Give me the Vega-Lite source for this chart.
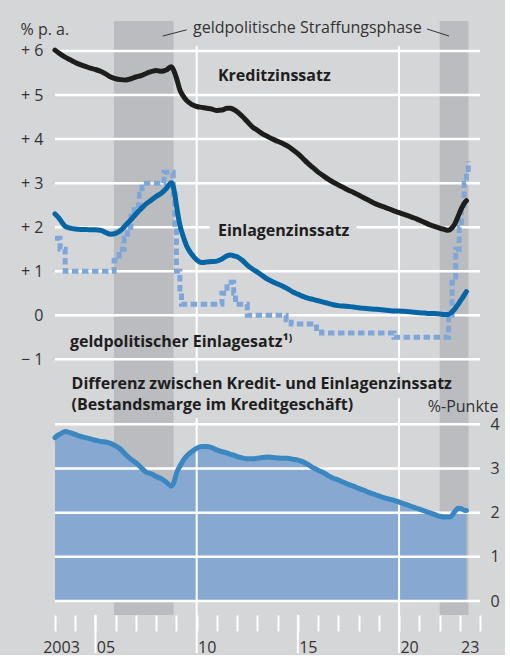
{
  "$schema": "https://vega.github.io/schema/vega-lite/v6.json",
  "background": "#d5d6d8",
  "padding": {"left": 20, "top": 20, "right": 5, "bottom": 0},
  "config": {
    "view": {"stroke": null},
    "font": "Open Sans",
    "axis": {"labelFont": "Open Sans", "titleFont": "Open Sans", "labelColor": "#333333", "titleColor": "#333333", "labelFontSize": 16, "titleFontSize": 16, "titleFontWeight": "normal", "domain": false, "grid": false}
  },
  "spacing": 0,
  "bounds": "flush",
  "datasets": {
    "bands": [{"t": 2005.91, "t2": 2008.86}, {"t": 2022.01, "t2": 2023.43}],
    "gtop": [{"v": -1}, {"v": 0}, {"v": 1}, {"v": 2}, {"v": 3}, {"v": 4}, {"v": 5}, {"v": 6}],
    "gbot": [{"v": 0}, {"v": 1}, {"v": 2}, {"v": 3}, {"v": 4}],
    "vtop": [{"t": 2010, "y1": 6.11, "y2": -1.31}, {"t": 2020, "y1": 6.11, "y2": -1.31}],
    "vbot": [{"t": 2005, "y1": -0.316, "y2": -1.176}, {"t": 2010, "y1": 4.142, "y2": -1.176}, {"t": 2015, "y1": -0.316, "y2": -1.176}, {"t": 2020, "y1": 4.594, "y2": -1.176}],
    "box": [{"t": 2010.65, "t2": 2017.9, "y1": 1.82, "y2": 2.12}],
    "leaders": [{"t": 2008.32, "y1": 6.34, "t2": 2009.5, "y2": 6.48}, {"t": 2021.38, "y1": 6.5, "t2": 2022.47, "y2": 6.34}],
    "notetop": [{"t": 2015.47, "y": 6.515, "label": "geldpolitische Straffungsphase"}],
    "labtop": [
      {"t": 2011.05, "y": 5.43, "label": "Kreditzinssatz"},
      {"t": 2011.05, "y": 1.914, "label": "Einlagenzinssatz"},
      {"t": 2003.74, "y": -0.606, "label": "geldpolitischer Einlagesatz¹⁾"}
    ],
    "labbot": [
      {"t": 2003.82, "y": 4.905, "label": "Differenz zwischen Kredit- und Einlagenzinssatz"},
      {"t": 2003.82, "y": 4.43, "label": "(Bestandsmarge im Kreditgeschäft)"}
    ],
    "policy": [
      {"t": 2003.0, "p": 1.75}, {"t": 2003.25, "p": 1.5}, {"t": 2003.5, "p": 1.0},
      {"t": 2005.92, "p": 1.25}, {"t": 2006.17, "p": 1.5}, {"t": 2006.42, "p": 1.75}, {"t": 2006.58, "p": 2.0},
      {"t": 2006.75, "p": 2.25}, {"t": 2006.92, "p": 2.5}, {"t": 2007.17, "p": 2.75}, {"t": 2007.3, "p": 3.0},
      {"t": 2008.38, "p": 3.25}, {"t": 2008.84, "p": 2.75}, {"t": 2008.92, "p": 2.0}, {"t": 2009.0, "p": 1.0},
      {"t": 2009.17, "p": 0.5}, {"t": 2009.25, "p": 0.25}, {"t": 2011.25, "p": 0.5}, {"t": 2011.5, "p": 0.75},
      {"t": 2011.83, "p": 0.5}, {"t": 2011.92, "p": 0.25}, {"t": 2012.5, "p": 0.0}, {"t": 2014.42, "p": -0.1},
      {"t": 2014.67, "p": -0.2}, {"t": 2015.92, "p": -0.3}, {"t": 2016.17, "p": -0.4}, {"t": 2019.75, "p": -0.5},
      {"t": 2022.45, "p": 0.0}, {"t": 2022.62, "p": 0.75}, {"t": 2022.8, "p": 1.5}, {"t": 2022.97, "p": 2.0},
      {"t": 2023.08, "p": 2.5}, {"t": 2023.22, "p": 3.0}, {"t": 2023.33, "p": 3.25}, {"t": 2023.42, "p": 3.5}
    ],
    "series": [
      {"t": 2003.0, "k": 6.02, "e": 2.30, "d": 3.70},
      {"t": 2003.17, "k": 5.96, "e": 2.22, "d": 3.76},
      {"t": 2003.33, "k": 5.91, "e": 2.12, "d": 3.80},
      {"t": 2003.5, "k": 5.86, "e": 2.02, "d": 3.84},
      {"t": 2003.75, "k": 5.80, "e": 1.98, "d": 3.81},
      {"t": 2004.0, "k": 5.74, "e": 1.96, "d": 3.77},
      {"t": 2004.25, "k": 5.69, "e": 1.95, "d": 3.73},
      {"t": 2004.5, "k": 5.65, "e": 1.95, "d": 3.70},
      {"t": 2004.75, "k": 5.61, "e": 1.94, "d": 3.67},
      {"t": 2005.0, "k": 5.58, "e": 1.94, "d": 3.64},
      {"t": 2005.25, "k": 5.54, "e": 1.93, "d": 3.61},
      {"t": 2005.5, "k": 5.48, "e": 1.88, "d": 3.60},
      {"t": 2005.75, "k": 5.41, "e": 1.84, "d": 3.57},
      {"t": 2006.0, "k": 5.37, "e": 1.86, "d": 3.51},
      {"t": 2006.25, "k": 5.35, "e": 1.93, "d": 3.43},
      {"t": 2006.5, "k": 5.34, "e": 2.05, "d": 3.31},
      {"t": 2006.75, "k": 5.37, "e": 2.17, "d": 3.21},
      {"t": 2007.0, "k": 5.41, "e": 2.30, "d": 3.13},
      {"t": 2007.25, "k": 5.44, "e": 2.42, "d": 3.02},
      {"t": 2007.5, "k": 5.49, "e": 2.53, "d": 2.92},
      {"t": 2007.75, "k": 5.53, "e": 2.61, "d": 2.88},
      {"t": 2008.0, "k": 5.56, "e": 2.70, "d": 2.82},
      {"t": 2008.25, "k": 5.54, "e": 2.77, "d": 2.77},
      {"t": 2008.5, "k": 5.57, "e": 2.88, "d": 2.69},
      {"t": 2008.75, "k": 5.64, "e": 3.01, "d": 2.60},
      {"t": 2008.92, "k": 5.50, "e": 2.75, "d": 2.75},
      {"t": 2009.0, "k": 5.39, "e": 2.50, "d": 2.89},
      {"t": 2009.17, "k": 5.12, "e": 2.05, "d": 3.05},
      {"t": 2009.33, "k": 4.98, "e": 1.80, "d": 3.18},
      {"t": 2009.5, "k": 4.88, "e": 1.58, "d": 3.28},
      {"t": 2009.75, "k": 4.79, "e": 1.39, "d": 3.38},
      {"t": 2010.0, "k": 4.74, "e": 1.26, "d": 3.46},
      {"t": 2010.25, "k": 4.72, "e": 1.20, "d": 3.50},
      {"t": 2010.5, "k": 4.70, "e": 1.21, "d": 3.50},
      {"t": 2010.75, "k": 4.68, "e": 1.22, "d": 3.47},
      {"t": 2011.0, "k": 4.65, "e": 1.23, "d": 3.42},
      {"t": 2011.25, "k": 4.66, "e": 1.28, "d": 3.38},
      {"t": 2011.5, "k": 4.70, "e": 1.35, "d": 3.35},
      {"t": 2011.67, "k": 4.70, "e": 1.37, "d": 3.32},
      {"t": 2011.83, "k": 4.67, "e": 1.35, "d": 3.30},
      {"t": 2012.0, "k": 4.62, "e": 1.33, "d": 3.27},
      {"t": 2012.25, "k": 4.52, "e": 1.25, "d": 3.24},
      {"t": 2012.5, "k": 4.40, "e": 1.14, "d": 3.22},
      {"t": 2012.75, "k": 4.28, "e": 1.05, "d": 3.22},
      {"t": 2013.0, "k": 4.20, "e": 0.98, "d": 3.23},
      {"t": 2013.25, "k": 4.12, "e": 0.90, "d": 3.25},
      {"t": 2013.5, "k": 4.06, "e": 0.82, "d": 3.26},
      {"t": 2013.75, "k": 4.00, "e": 0.76, "d": 3.25},
      {"t": 2014.0, "k": 3.95, "e": 0.71, "d": 3.24},
      {"t": 2014.25, "k": 3.90, "e": 0.66, "d": 3.23},
      {"t": 2014.5, "k": 3.84, "e": 0.60, "d": 3.23},
      {"t": 2014.75, "k": 3.76, "e": 0.53, "d": 3.21},
      {"t": 2015.0, "k": 3.67, "e": 0.48, "d": 3.19},
      {"t": 2015.25, "k": 3.56, "e": 0.43, "d": 3.15},
      {"t": 2015.5, "k": 3.45, "e": 0.39, "d": 3.09},
      {"t": 2015.75, "k": 3.35, "e": 0.36, "d": 3.02},
      {"t": 2016.0, "k": 3.25, "e": 0.33, "d": 2.96},
      {"t": 2016.25, "k": 3.17, "e": 0.30, "d": 2.91},
      {"t": 2016.5, "k": 3.09, "e": 0.27, "d": 2.84},
      {"t": 2016.75, "k": 3.02, "e": 0.24, "d": 2.78},
      {"t": 2017.0, "k": 2.96, "e": 0.22, "d": 2.74},
      {"t": 2017.25, "k": 2.90, "e": 0.21, "d": 2.69},
      {"t": 2017.5, "k": 2.84, "e": 0.20, "d": 2.64},
      {"t": 2017.75, "k": 2.79, "e": 0.19, "d": 2.60},
      {"t": 2018.0, "k": 2.73, "e": 0.17, "d": 2.55},
      {"t": 2018.25, "k": 2.67, "e": 0.16, "d": 2.51},
      {"t": 2018.5, "k": 2.61, "e": 0.15, "d": 2.46},
      {"t": 2018.75, "k": 2.55, "e": 0.14, "d": 2.42},
      {"t": 2019.0, "k": 2.50, "e": 0.13, "d": 2.38},
      {"t": 2019.25, "k": 2.46, "e": 0.12, "d": 2.34},
      {"t": 2019.5, "k": 2.42, "e": 0.11, "d": 2.31},
      {"t": 2019.75, "k": 2.37, "e": 0.10, "d": 2.28},
      {"t": 2020.0, "k": 2.33, "e": 0.10, "d": 2.24},
      {"t": 2020.25, "k": 2.29, "e": 0.09, "d": 2.20},
      {"t": 2020.5, "k": 2.25, "e": 0.08, "d": 2.16},
      {"t": 2020.75, "k": 2.21, "e": 0.07, "d": 2.12},
      {"t": 2021.0, "k": 2.16, "e": 0.06, "d": 2.08},
      {"t": 2021.25, "k": 2.11, "e": 0.05, "d": 2.04},
      {"t": 2021.5, "k": 2.06, "e": 0.04, "d": 2.00},
      {"t": 2021.75, "k": 2.02, "e": 0.04, "d": 1.96},
      {"t": 2022.0, "k": 1.98, "e": 0.03, "d": 1.92},
      {"t": 2022.25, "k": 1.95, "e": 0.02, "d": 1.90},
      {"t": 2022.42, "k": 1.93, "e": 0.02, "d": 1.90},
      {"t": 2022.58, "k": 1.97, "e": 0.06, "d": 1.92},
      {"t": 2022.75, "k": 2.07, "e": 0.14, "d": 2.02},
      {"t": 2022.92, "k": 2.25, "e": 0.25, "d": 2.10},
      {"t": 2023.08, "k": 2.42, "e": 0.36, "d": 2.09},
      {"t": 2023.25, "k": 2.56, "e": 0.48, "d": 2.05},
      {"t": 2023.33, "k": 2.60, "e": 0.54, "d": 2.05}
    ]
  },
  "vconcat": [
    {
      "width": 425,
      "height": 354,
      "encoding": {
        "x": {"field": "t", "type": "quantitative", "scale": {"domain": [2003, 2024], "nice": false, "zero": false}, "axis": null}
      },
      "layer": [
        {
          "data": {"name": "bands"},
          "mark": {"type": "rect", "color": "#bbbcc0"},
          "encoding": {"x2": {"field": "t2"}}
        },
        {
          "data": {"name": "gtop"},
          "mark": {"type": "rule", "color": "white", "strokeWidth": 2.5},
          "encoding": {
            "x": null,
            "y": {"field": "v", "type": "quantitative", "scale": {"domain": [-1.355, 6.681], "nice": false, "zero": false},
              "axis": {"values": [-1, 0, 1, 2, 3, 4, 5, 6], "ticks": false, "labelPadding": 12, "labelOverlap": false, "labelBound": false,
                "labelExpr": "datum.value > 0 ? '+ ' + datum.value : (datum.value < 0 ? '− ' + abs(datum.value) : '0')",
                "title": "% p. a.", "titleAngle": 0, "titleAlign": "left", "titleBaseline": "middle", "titleX": -35, "titleY": 8}}
          }
        },
        {
          "data": {"name": "vtop"},
          "mark": {"type": "rule", "color": "white", "strokeWidth": 2},
          "encoding": {
            "y": {"field": "y1", "type": "quantitative"},
            "y2": {"field": "y2"}
          }
        },
        {
          "data": {"name": "box"},
          "mark": {"type": "rect", "color": "#d5d6d8"},
          "encoding": {
            "x2": {"field": "t2"},
            "y": {"field": "y1", "type": "quantitative"},
            "y2": {"field": "y2"}
          }
        },
        {
          "data": {"name": "policy"},
          "mark": {"type": "line", "color": "#7fa6d8", "strokeWidth": 5, "strokeDash": [6.5, 3.5], "interpolate": "step-after"},
          "encoding": {"y": {"field": "p", "type": "quantitative"}}
        },
        {
          "data": {"name": "series"},
          "mark": {"type": "line", "color": "#0565a5", "strokeWidth": 5, "interpolate": "monotone", "strokeCap": "round"},
          "encoding": {"y": {"field": "e", "type": "quantitative"}}
        },
        {
          "data": {"name": "series"},
          "mark": {"type": "line", "color": "#1d1d1b", "strokeWidth": 5, "interpolate": "monotone", "strokeCap": "round"},
          "encoding": {"y": {"field": "k", "type": "quantitative"}}
        },
        {
          "data": {"name": "labtop"},
          "mark": {"type": "text", "align": "left", "baseline": "middle", "fontSize": 16, "fontWeight": "bold", "color": "#1e1e1e"},
          "encoding": {
            "y": {"field": "y", "type": "quantitative"},
            "text": {"field": "label"}
          }
        },
        {
          "data": {"name": "notetop"},
          "mark": {"type": "text", "align": "center", "baseline": "middle", "fontSize": 16, "color": "#333333"},
          "encoding": {
            "y": {"field": "y", "type": "quantitative"},
            "text": {"field": "label"}
          }
        },
        {
          "data": {"name": "leaders"},
          "mark": {"type": "rule", "color": "#333333", "strokeWidth": 1},
          "encoding": {
            "y": {"field": "y1", "type": "quantitative"},
            "x2": {"field": "t2"},
            "y2": {"field": "y2"}
          }
        }
      ]
    },
    {
      "width": 425,
      "height": 240,
      "encoding": {
        "x": {"field": "t", "type": "quantitative", "scale": {"domain": [2003, 2024], "nice": false, "zero": false},
          "axis": {"values": [2003, 2004, 2005, 2006, 2007, 2008, 2009, 2010, 2011, 2012, 2013, 2014, 2015, 2016, 2017, 2018, 2019, 2020, 2021, 2022, 2023, 2024],
            "ticks": true, "tickSize": 16, "tickColor": "#ffffff", "tickWidth": 2, "tickOpacity": 1,
            "labelPadding": 8, "labelFlush": false, "labelOverlap": false, "labelBound": false,
            "labelOffset": {"expr": "datum.value == 2003 ? 6 : 10"},
            "labelExpr": "datum.value == 2003 ? '2003' : (datum.value == 2005 ? '05' : (datum.value == 2010 ? '10' : (datum.value == 2015 ? '15' : (datum.value == 2020 ? '20' : (datum.value == 2023 ? '23' : '')))))",
            "title": null}}
      },
      "layer": [
        {
          "data": {"name": "bands"},
          "mark": {"type": "rect", "color": "#bbbcc0"},
          "encoding": {"x2": {"field": "t2"}}
        },
        {
          "data": {"name": "series"},
          "mark": {"type": "area", "color": "#87a9d1", "interpolate": "monotone"},
          "encoding": {
            "y": {"field": "d", "type": "quantitative", "scale": {"domain": [-0.316, 5.116], "nice": false, "zero": false},
              "axis": {"orient": "right", "values": [0, 1, 2, 3, 4], "ticks": false, "labelPadding": 10, "labelOverlap": false, "labelBound": false, "zindex": 1,
                "title": "%-Punkte", "titleAngle": 0, "titleAlign": "right", "titleBaseline": "middle", "titleX": 18, "titleY": 31}},
            "y2": {"datum": 0}
          }
        },
        {
          "data": {"name": "gbot"},
          "mark": {"type": "rule", "color": "white", "strokeWidth": 2.5},
          "encoding": {
            "x": null,
            "y": {"field": "v", "type": "quantitative"}
          }
        },
        {
          "data": {"name": "vbot"},
          "mark": {"type": "rule", "color": "white", "strokeWidth": 2},
          "encoding": {
            "y": {"field": "y1", "type": "quantitative"},
            "y2": {"field": "y2"}
          }
        },
        {
          "data": {"name": "series"},
          "mark": {"type": "line", "color": "#3a87c1", "strokeWidth": 5, "interpolate": "monotone", "strokeCap": "round"},
          "encoding": {"y": {"field": "d", "type": "quantitative"}}
        },
        {
          "data": {"name": "labbot"},
          "mark": {"type": "text", "align": "left", "baseline": "middle", "fontSize": 16, "fontWeight": "bold", "color": "#1e1e1e"},
          "encoding": {
            "y": {"field": "y", "type": "quantitative"},
            "text": {"field": "label"}
          }
        }
      ]
    }
  ]
}
